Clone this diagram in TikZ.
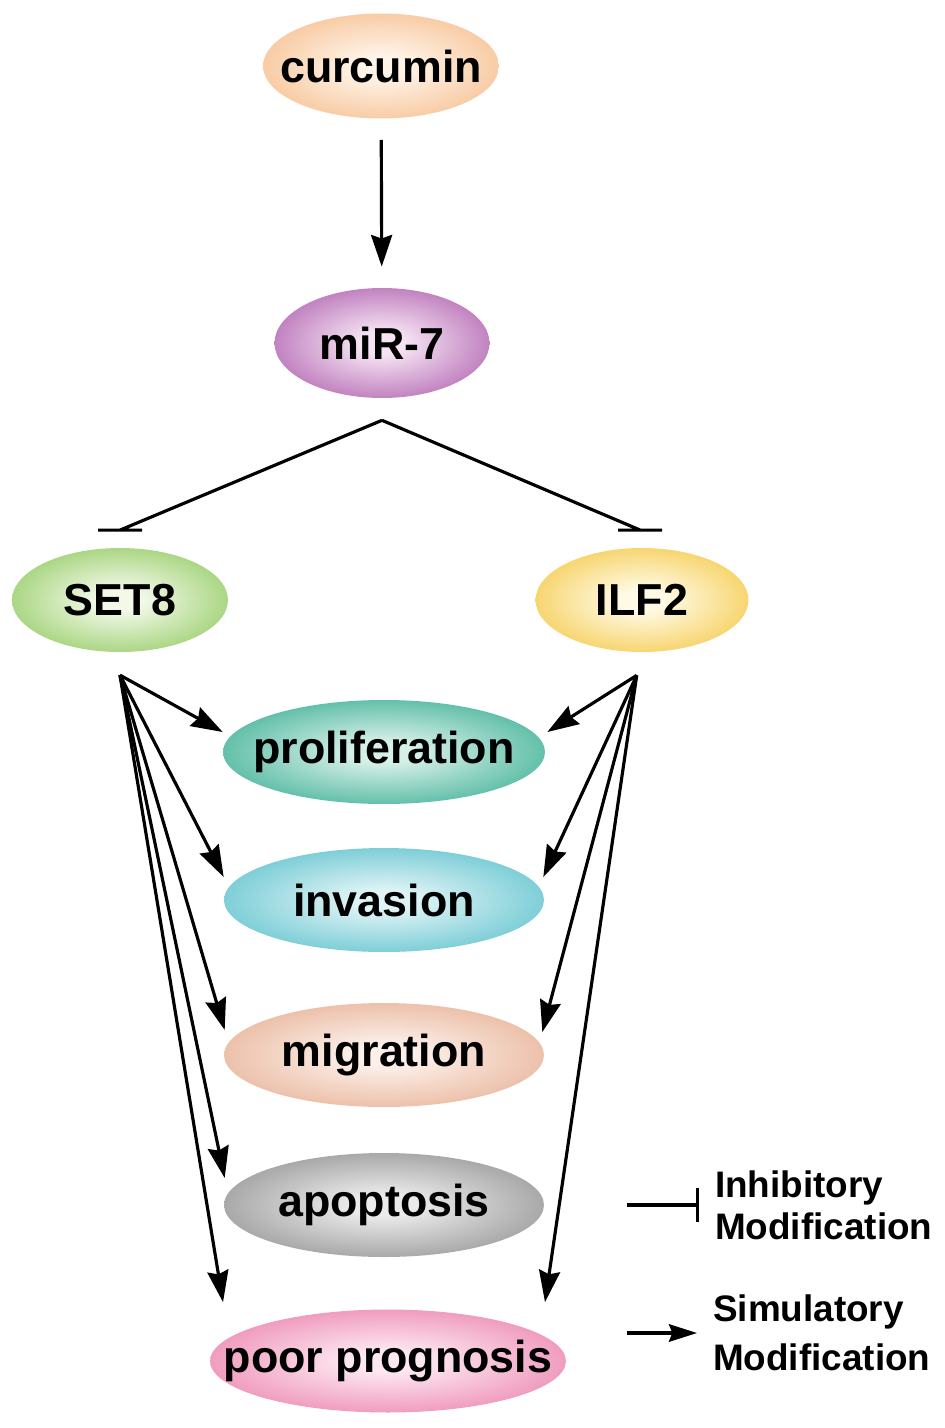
\documentclass[tikz,border=0pt]{standalone}
\usepackage{fontspec}
\setmainfont{Liberation Sans}
\usetikzlibrary{shapes.geometric,arrows.meta,positioning,calc}

\definecolor{curcout}{HTML}{F3AE74}
\definecolor{curcin}{HTML}{FFF4E8}
\definecolor{mirout}{HTML}{9A3A9A}
\definecolor{mirin}{HTML}{F6E4F4}
\definecolor{setout}{HTML}{76BD3A}
\definecolor{setin}{HTML}{F2F9E8}
\definecolor{ilfout}{HTML}{F1BA18}
\definecolor{ilfin}{HTML}{FFFAE6}
\definecolor{proout}{HTML}{0E9C7C}
\definecolor{proin}{HTML}{D6F0E8}
\definecolor{invout}{HTML}{38B3C2}
\definecolor{invin}{HTML}{DDF3F5}
\definecolor{migout}{HTML}{E19E7B}
\definecolor{migin}{HTML}{FCF0EA}
\definecolor{apoout}{HTML}{777777}
\definecolor{apoin}{HTML}{EBEBEB}
\definecolor{poorout}{HTML}{E6649A}
\definecolor{poorin}{HTML}{FDE8F1}

\colorlet{ovin}{white}
\colorlet{ovout}{black}
\pgfdeclareradialshading[ovin,ovout]{ovshade}{\pgfpoint{0bp}{0bp}}{%
    color(0bp)=(ovin); color(5bp)=(ovin); color(40bp)=(ovout); color(75bp)=(ovout)}

% text that does not widen its ellipse
\newcommand{\ovlabel}[1]{\makebox[0pt]{#1}}

\begin{document}
\begin{tikzpicture}[
    x=0.02cm, y=-0.02cm,
    oval/.style={
        ellipse,
        inner sep=0pt,
        font=\fontsize{25.5}{30}\selectfont\bfseries,
        shading=ovshade,
        },
    tint/.style 2 args={
        /utils/exec={\colorlet{ovin}{#1}\colorlet{ovout}{#2}},
        },
    act/.style={
        line width=1.8pt,
        -{Stealth[length=18pt, width=12pt, inset=2pt]},
        },
    inh/.style={
        line width=1.8pt,
        },
    legend/.style={
        font=\fontsize{21}{24}\selectfont\bfseries,
        align=left,
        inner sep=0pt,
        },
    ]

    \useasboundingbox (0,0) rectangle (945,1428);

    \node [oval, tint={curcin}{curcout}, minimum width=4.72cm, minimum height=2.1cm] (curcumin) at (381,66) {\ovlabel{curcumin}};
    \node [oval, tint={mirin}{mirout}, minimum width=4.3cm, minimum height=2.2cm] (mir7) at (382,343) {\ovlabel{miR-7}};

    \node [oval, tint={setin}{setout}, minimum width=4.32cm, minimum height=2.08cm] (set8) at (120,600) {\ovlabel{SET8}};
    \node [oval, tint={ilfin}{ilfout}, minimum width=4.26cm, minimum height=2.08cm] (ilf2) at (642,600) {\ovlabel{ILF2}};

    \node [oval, tint={proin}{proout}, minimum width=6.44cm, minimum height=2.08cm] (prolif) at (384,752) {\ovlabel{proliferation}};
    \node [oval, tint={invin}{invout}, minimum width=6.4cm, minimum height=2.08cm] (invasion) at (384,900) {\ovlabel{invasion}};
    \node [oval, tint={migin}{migout}, minimum width=6.4cm, minimum height=2.08cm] (migration) at (384,1055) {\ovlabel{migration}};
    \node [oval, tint={apoin}{apoout}, minimum width=6.4cm, minimum height=2.08cm] (apoptosis) at (384,1205) {\ovlabel{apoptosis}};
    \node [oval, tint={poorin}{poorout}, minimum width=7.12cm, minimum height=2.06cm] (poor) at (388,1361) {\ovlabel{poor prognosis}};

    \coordinate (fork) at ([yshift=-12.5pt]mir7.south);
    \coordinate (set8bar) at ([yshift=10pt]set8.north);
    \coordinate (ilf2bar) at ([xshift=-1pt,yshift=10pt]ilf2.north);
    \coordinate (set8out) at ([yshift=-13pt]set8.south);
    \coordinate (ilf2out) at ([xshift=-3pt]$(ilf2.south)+(0,23)$);

    \draw [act, shorten <=12pt, shorten >=12pt] (curcumin) -- (mir7);

    \draw [inh] (fork) -- (set8bar) ++(-22,0) -- ++(44,0);
    \draw [inh] (fork) -- (ilf2bar) ++(-22,0) -- ++(44,0);

    % SET8 targets
    \draw [act] (set8out) -- ($(prolif.west)+(0,-20)$);
    \draw [act] (set8out) -- ($(invasion.west)+(0,-23)$);
    \draw [act] (set8out) -- ($(migration.west)+(1,-25)$);
    \draw [act] (set8out) -- ($(apoptosis.west)+(1,-27)$);
    \draw [act] (set8out) -- ($(poor.north)+(-165,-7)$);

    % ILF2 targets
    \draw [act] (ilf2out) -- ($(prolif.east)+(2,-20)$);
    \draw [act] (ilf2out) -- ($(invasion.east)+(-1,-23)$);
    \draw [act] (ilf2out) -- ($(migration.east)+(-2,-23)$);
    \draw [act] (ilf2out) -- ($(poor.north)+(157,-7)$);

    % legend
    \coordinate (inhstart) at (627,1205);
    \coordinate (inhend) at (699,1205);
    \coordinate (actstart) at (627,1333);
    \coordinate (actend) at (697,1333);

    \draw [inh, -{Bar[width=19pt, line width=1.8pt]}] (inhstart) -- (inhend);
    \draw [act, -{Stealth[length=16pt, width=10pt, inset=2pt]}] (actstart) -- (actend);

    \node [legend, right=9pt of inhend] (inhlabel) {Inhibitory\\Modification};
    \node [legend, right=9pt of actend] (actlabel) {Simulatory\\[4pt]Modification};

\end{tikzpicture}
\end{document}
